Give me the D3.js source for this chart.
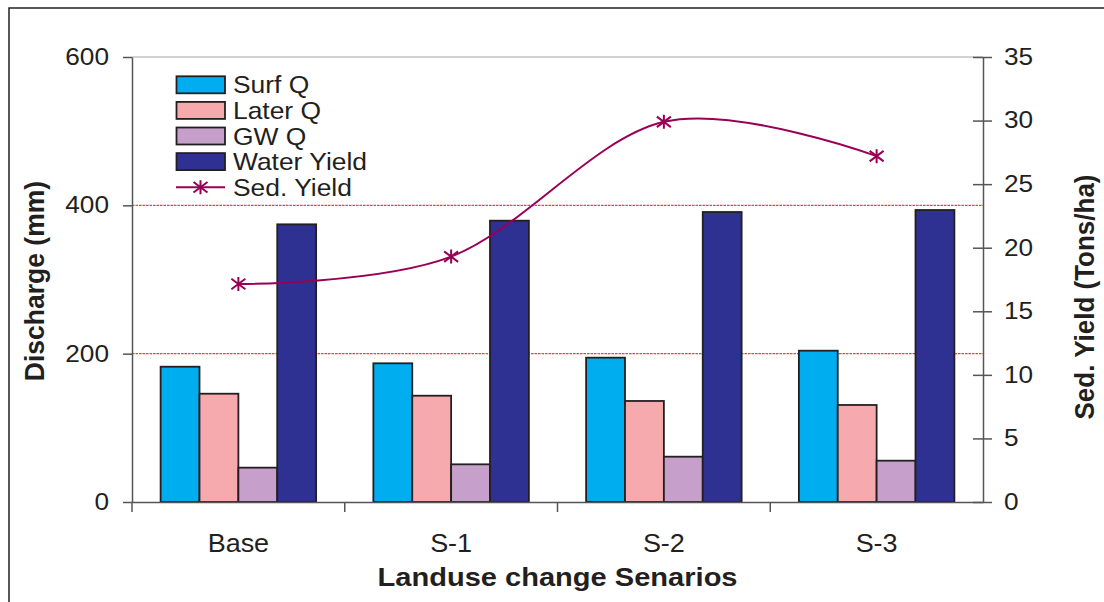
<!DOCTYPE html>
<html>
<head>
<meta charset="utf-8">
<script src="https://cdn.jsdelivr.net/npm/d3@7/dist/d3.min.js"></script>
<style>
  html, body { margin: 0; padding: 0; background: #fff; }
  svg { display: block; }
  text { font-family: "Liberation Sans", Arial, sans-serif; fill: #231f20; }
</style>
</head>
<body>
<svg id="chart" width="1104" height="602"></svg>
<script>
// ---- data ----
const categories = ["Base", "S-1", "S-2", "S-3"];
const seriesNames = ["Surf Q", "Later Q", "GW Q", "Water Yield"];
const surfQ = [182.4, 187, 194.6, 204];
const laterQ = [146, 143.3, 136.2, 130.8];
const gwQ = [46.3, 50.8, 61.1, 55.7];
const waterYield = [374.4, 379.3, 391, 393.7];
const sedYield = [17.15, 19.3, 29.9, 27.2];
const leftTicks = [0, 200, 400, 600];
const rightTicks = [0, 5, 10, 15, 20, 25, 30, 35];
const lineName = "Sed. Yield";

// ---- style ----
const colors = ["#00aeef", "#f7aaad", "#c6a0ca", "#2e3192"];
const lineColor = "#990055";
const W = 1104, H = 602;
const plot = { left: 132, right: 983, top: 57, bottom: 502 };

const svg = d3.select("#chart");

// turn a text's x/y into a translate + horizontal stretch
function stretch(sel, sx) {
  sel.each(function () {
    const t = d3.select(this);
    const tx = +t.attr("x") || 0, ty = +t.attr("y") || 0;
    t.attr("x", 0).attr("y", 0).attr("transform", `translate(${tx},${ty}) scale(${sx},1)`);
  });
}

// outer frame (top and left edges visible)
svg.append("rect").attr("x", 9).attr("y", 8).attr("width", W + 20).attr("height", H + 20)
  .attr("fill", "none").attr("stroke", "#231f20").attr("stroke-width", 1.5);

const x = d3.scaleBand().domain(categories).range([plot.left, plot.right]).padding(0);
const bw = x.bandwidth();
const groupW = bw * 0.731;
const xi = d3.scaleBand().domain(seriesNames).range([(bw - groupW) / 2, (bw + groupW) / 2]).padding(0);
const yL = d3.scaleLinear().domain([0, 600]).range([plot.bottom, plot.top]);
const yR = d3.scaleLinear().domain([0, 35]).range([plot.bottom, plot.top]);

// gridlines
const grid = svg.append("g");
grid.selectAll("line").data(leftTicks.filter(d => d > 0)).join("line")
  .attr("x1", plot.left).attr("x2", plot.right)
  .attr("y1", d => yL(d)).attr("y2", d => yL(d))
  .attr("stroke", d => d === 600 ? "#a6a6a6" : "#ff3b3b")
  .attr("stroke-width", 1.2)
  .attr("stroke-dasharray", d => d === 600 ? null : "2.5,1");

// bars
const seriesData = [surfQ, laterQ, gwQ, waterYield];
const barData = [];
seriesData.forEach((arr, si) => arr.forEach((v, ci) => barData.push({ s: seriesNames[si], si, c: categories[ci], v })));
svg.append("g").selectAll("rect").data(barData).join("rect")
  .attr("x", d => x(d.c) + xi(d.s))
  .attr("width", xi.bandwidth())
  .attr("y", d => yL(d.v))
  .attr("height", d => yL(0) - yL(d.v))
  .attr("fill", d => colors[d.si])
  .attr("stroke", "#231f20").attr("stroke-width", 1.8);

// x axis line and boundary ticks
const axisColor = "#555";
const xAxisG = svg.append("g").attr("transform", `translate(0,${plot.bottom})`)
  .call(d3.axisBottom(x).tickSize(0).tickPadding(0));
xAxisG.select(".domain").attr("stroke", axisColor).attr("stroke-width", 1.5);
xAxisG.selectAll(".tick text").attr("dy", null).attr("y", 50)
  .style("font-size", "25px").attr("fill", "#231f20").call(stretch, 1.08);
const bounds = categories.map(c => x(c));
svg.append("g").selectAll("line").data(bounds).join("line")
  .attr("x1", d => d).attr("x2", d => d)
  .attr("y1", plot.bottom).attr("y2", plot.bottom + 10)
  .attr("stroke", axisColor).attr("stroke-width", 1.5);

// left axis
const yLG = svg.append("g").attr("transform", `translate(${plot.left},0)`)
  .call(d3.axisLeft(yL).tickValues(leftTicks).tickSize(9).tickSizeOuter(0).tickPadding(14));
yLG.select(".domain").attr("stroke", axisColor).attr("stroke-width", 1.5);
yLG.selectAll(".tick line").attr("stroke", axisColor).attr("stroke-width", 1.5);
yLG.selectAll(".tick text").style("font-size", "23px").attr("fill", "#231f20").call(stretch, 1.14);

// right axis
const yRG = svg.append("g").attr("transform", `translate(${plot.right},0)`)
  .call(d3.axisRight(yR).tickValues(rightTicks).tickSize(9).tickSizeOuter(0).tickPadding(12));
yRG.select(".domain").attr("stroke", axisColor).attr("stroke-width", 1.5);
yRG.selectAll(".tick line").attr("x1", -10).attr("stroke", axisColor).attr("stroke-width", 1.5);
yRG.selectAll(".tick text").style("font-size", "23px").attr("fill", "#231f20").call(stretch, 1.14);

// sediment line
const line = d3.line()
  .x((d, i) => x(categories[i]) + bw / 2)
  .y(d => yR(d))
  .curve(d3.curveCardinal.tension(0));
svg.append("path").datum(sedYield).attr("d", line)
  .attr("fill", "none").attr("stroke", lineColor).attr("stroke-width", 2);

function star(g, cx, cy, r) {
  const p = `M${cx},${cy - r}L${cx},${cy + r}` +
    `M${cx - r},${cy - r * 0.75}L${cx + r},${cy + r * 0.75}` +
    `M${cx - r},${cy + r * 0.75}L${cx + r},${cy - r * 0.75}`;
  g.append("path").attr("d", p).attr("stroke", lineColor).attr("stroke-width", 2).attr("fill", "none");
}
const mk = svg.append("g");
sedYield.forEach((v, i) => star(mk, x(categories[i]) + bw / 2, yR(v), 7));

// axis titles
svg.append("text").attr("transform", `translate(${plot.left + (plot.right - plot.left) / 2},586) scale(1.14,1)`)
  .attr("text-anchor", "middle").style("font-size", "25.5px").style("font-weight", "bold")
  .text("Landuse change Senarios");
svg.append("text").attr("transform", "translate(44,281) rotate(-90) scale(1.04,1.08)")
  .attr("text-anchor", "middle").style("font-size", "25.5px").style("font-weight", "bold")
  .text("Discharge (mm)");
svg.append("text").attr("transform", "translate(1094,297) rotate(-90) scale(1.02,1.08)")
  .attr("text-anchor", "middle").style("font-size", "25.5px").style("font-weight", "bold")
  .text("Sed. Yield (Tons/ha)");

// legend
const leg = svg.append("g");
const legItems = seriesNames.map((n, i) => ({ n, i, bar: true })).concat([{ n: lineName, i: 4, bar: false }]);
legItems.forEach(d => {
  const cy = 84.8 + d.i * 25.6;
  if (d.bar) {
    leg.append("rect").attr("x", 176.5).attr("y", cy - 8.5).attr("width", 48.5).attr("height", 17)
      .attr("fill", colors[d.i]).attr("stroke", "#231f20").attr("stroke-width", 1.8);
  } else {
    leg.append("line").attr("x1", 176).attr("x2", 225).attr("y1", cy).attr("y2", cy)
      .attr("stroke", lineColor).attr("stroke-width", 2);
    star(leg, 200.5, cy, 7);
  }
  leg.append("text").attr("x", 233).attr("y", cy + 8.5).style("font-size", "24px").text(d.n)
    .call(stretch, 1.1);
});
</script>
</body>
</html>
